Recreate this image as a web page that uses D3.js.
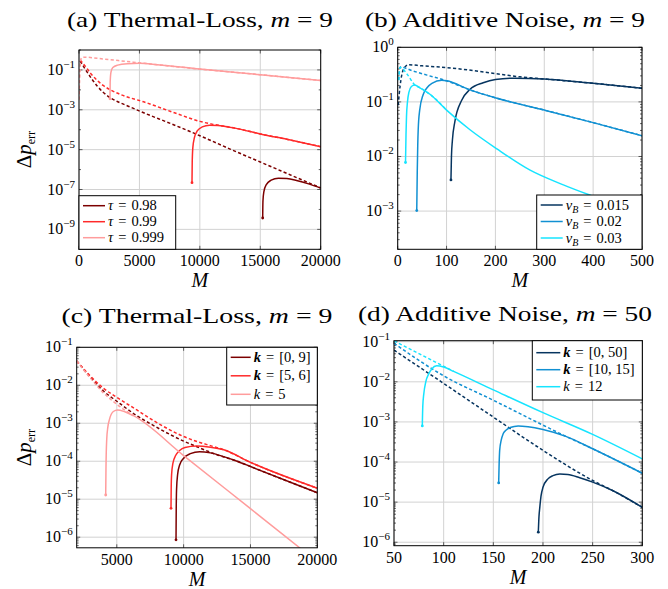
<!DOCTYPE html>
<html><head><meta charset="utf-8">
<script src="https://cdn.jsdelivr.net/npm/d3@7"></script>
<style>
body{margin:0;background:#fff}
svg{display:block}
</style>
</head><body>
<svg id="c" width="668" height="589" font-family="Liberation Serif, DejaVu Serif, Times New Roman, serif"></svg>
<script>
// ---------------- Panel (a): Thermal-Loss, m = 9 ----------------
const aXTicks = [0, 5000, 10000, 15000, 20000];
const aYTicks = [1e-1, 1e-3, 1e-5, 1e-7, 1e-9];
const aLegend = ["0.98", "0.99", "0.999"];
const aDash098 = [[100,0.282],[500,0.112],[1000,0.0398],[1500,0.0158],[2000,7.59e-3],[2600,3.98e-3],[3300,2.40e-3],[4200,1.41e-3],[5350,7.08e-4],[7500,2.14e-4],[10000,5.01e-5],[12500,1.07e-5],[15000,2.40e-6],[17500,5.37e-7],[20000,1.20e-7]];
const aSolid098 = [[15200,3.72e-9],[15220,2.51e-8],[15300,7.94e-8],[15500,1.78e-7],[15900,2.95e-7],[16500,3.72e-7],[17200,3.55e-7],[18000,2.82e-7],[19000,1.91e-7],[20000,1.17e-7]];
const aDash099 = [[100,0.316],[500,0.158],[1000,0.0631],[1500,0.0302],[2000,0.0166],[2600,0.01],[3500,5.62e-3],[5350,2.51e-3],[7900,7.08e-4],[10000,2.63e-4],[11000,1.91e-4],[12000,1.51e-4],[13000,1.17e-4],[15000,6.17e-5],[17500,3.02e-5],[20000,1.41e-5]];
const aSolid099 = [[9350,2.19e-7],[9370,2.51e-6],[9420,1.26e-5],[9550,3.98e-5],[9800,8.91e-5],[10200,1.38e-4],[10800,1.66e-4],[11500,1.62e-4],[12000,1.51e-4],[13000,1.17e-4],[15000,6.17e-5],[17500,3.02e-5],[20000,1.41e-5]];
const aDash0999 = [[0,3.16e-3],[50,0.0316],[100,0.158],[200,0.398],[400,0.437],[2000,0.355],[4000,0.263],[6500,0.182],[10000,0.110],[15000,0.0575],[20000,0.0295]];
const aSolid0999 = [[2565,3.55e-3],[2580,0.0251],[2650,0.0794],[2800,0.132],[3200,0.174],[4000,0.204],[5000,0.214],[6500,0.182],[10000,0.110],[15000,0.0575],[20000,0.0295]];

// ---------------- Panel (b): Additive Noise, m = 9 ----------------
const bXTicks = [0, 100, 200, 300, 400, 500];
const bYTicks = [1, 1e-1, 1e-2, 1e-3];
const bLegend = ["0.015", "0.02", "0.03"];
const bDash0015 = [[1,0.0871],[5,0.2],[12,0.398],[22,0.479],[50,0.457],[97,0.427],[150,0.380],[199,0.331],[250,0.288],[300,0.263],[400,0.219],[500,0.178]];
const bSolid0015 = [[109,3.72e-3],[110,0.01],[112,0.02],[117,0.0437],[131,0.107],[148,0.170],[175,0.224],[200,0.257],[240,0.272],[300,0.263],[400,0.219],[500,0.178]];
const bDash002 = [[2,0.251],[5,0.437],[30,0.372],[60,0.309],[90,0.26],[100,0.243],[148,0.166],[203,0.117],[300,0.0708],[400,0.0417],[500,0.0240]];
const bSolid002 = [[39,1.02e-3],[40,5.01e-3],[41,0.0158],[42,0.0316],[45,0.0708],[52,0.135],[60,0.182],[70,0.219],[90,0.248],[100,0.243],[148,0.166],[203,0.117],[300,0.0708],[400,0.0417],[500,0.0240]];
const bDash003 = [[2,0.251],[5,0.427],[20,0.316],[35,0.204],[45,0.182],[66,0.138],[100,0.0708]];
const bSolid003 = [[16,7.76e-3],[17,0.0251],[18,0.0537],[20,0.1],[23,0.151],[28,0.191],[35,0.204],[45,0.182],[66,0.138],[100,0.0708],[148,0.0309],[203,0.0138],[271,5.62e-3],[339,3.02e-3],[400,1.86e-3],[500,8.91e-4]];

// ---------------- Panel (c): Thermal-Loss, m = 9 ----------------
const cXTicks = [5000, 10000, 15000, 20000];
const cYTicks = [1e-1, 1e-2, 1e-3, 1e-4, 1e-5, 1e-6];
const cLegend = ["[0, 9]", "[5, 6]", "5"];
const cDash09 = [[2000,0.0437],[3000,0.0166],[4000,7.08e-3],[5000,3.80e-3],[6500,1.58e-3],[7600,9.33e-4],[9000,5.01e-4],[10000,3.39e-4],[11000,2.40e-4],[12500,1.48e-4],[14000,1.0e-4],[15000,7.24e-5],[20000,1.48e-5]];
const cSolid09 = [[9430,8.51e-7],[9445,5.01e-6],[9470,1.78e-5],[9550,4.47e-5],[9700,7.94e-5],[10000,1.20e-4],[10500,1.58e-4],[11200,1.78e-4],[12000,1.66e-4],[13000,1.32e-4],[14000,1.0e-4],[15000,7.24e-5],[20000,1.48e-5]];
const cDash56 = [[2000,0.0437],[3000,0.0178],[4000,8.32e-3],[5000,4.79e-3],[6500,2.24e-3],[7600,1.26e-3],[9000,6.61e-4],[10000,4.47e-4],[11000,3.31e-4],[12000,2.57e-4],[13000,2.0e-4],[15000,9.33e-5],[20000,1.95e-5]];
const cSolid56 = [[9055,5.75e-6],[9070,2.0e-5],[9100,4.47e-5],[9200,8.91e-5],[9400,1.41e-4],[9700,1.91e-4],[10100,2.29e-4],[10975,2.51e-4],[12000,2.34e-4],[13000,2.0e-4],[15000,9.33e-5],[20000,1.95e-5]];
const cDash5 = [[2000,0.0437],[3000,0.0158],[4000,6.31e-3],[5000,3.16e-3],[6240,1.58e-3]];
const cSolid5 = [[4170,1.29e-5],[4190,6.31e-5],[4244,3.63e-4],[4330,7.94e-4],[4443,1.23e-3],[4742,2.04e-3],[5066,2.24e-3],[5600,2.0e-3],[6240,1.58e-3],[10000,1.41e-4],[15000,5.62e-6],[19000,4.27e-7]];

// ---------------- Panel (d): Additive Noise, m = 50 ----------------
const dXTicks = [50, 100, 150, 200, 250, 300];
const dYTicks = [1e-1, 1e-2, 1e-3, 1e-4, 1e-5, 1e-6];
const dLegend = ["[0, 50]", "[10, 15]", "12"];
const dDash050 = [[50,0.0617],[100,9.12e-3],[150,1.32e-3],[200,1.95e-4],[250,3.47e-5],[270,1.95e-5],[300,7.41e-6]];
const dSolid050 = [[195.3,1.78e-6],[196,4.47e-6],[196.8,7.41e-6],[198,1.41e-5],[200,2.34e-5],[205,3.80e-5],[210,4.57e-5],[217,5.01e-5],[225,4.90e-5],[237,4.07e-5],[250,3.16e-5],[270,1.95e-5],[300,7.41e-6]];
const dDash1015 = [[50,0.0912],[100,0.0141],[150,3.47e-3],[200,8.32e-4],[223,4.37e-4],[250,2.14e-4],[300,5.25e-5]];
const dSolid1015 = [[155.4,3.02e-5],[155.8,7.94e-5],[156.4,1.95e-4],[158,3.55e-4],[160,5.13e-4],[163,6.31e-4],[167,7.24e-4],[175,7.94e-4],[185,7.59e-4],[200,6.46e-4],[223,4.37e-4],[250,2.14e-4],[300,5.25e-5]];
const dDash12 = [[50,0.105],[110,0.0182]];
const dSolid12 = [[78.5,7.94e-4],[79,2.51e-3],[80,5.01e-3],[82,0.01],[85,0.0158],[88,0.0209],[93,0.0251],[100,0.0234],[110,0.0182],[150,6.31e-3],[200,1.70e-3],[250,4.90e-4],[300,1.20e-4]];

// colours
const REDS = ["#7c0000", "#ff2a2a", "#ff9c9c"];
const BLUES = ["#06345f", "#1190d2", "#16e4ff"];

const svg = d3.select("#c");

function addRich(t, segs) {
  segs.forEach(s => {
    const ts = t.append("tspan").text(s.t);
    if (s.i) ts.attr("font-style", "italic");
    if (s.b) ts.attr("font-weight", "bold");
    if (s.fs) ts.attr("font-size", s.fs);
    if (s.dy) ts.attr("dy", s.dy);
    if (s.dx) ts.attr("dx", s.dx);
  });
}

function expOf(v) { return Math.round(Math.log10(v)); }

function panel(cfg) {
  const g = svg.append("g");
  const x = d3.scaleLinear().domain(cfg.xd).range([cfg.x0, cfg.x1]);
  const y = d3.scaleLog().domain(cfg.yd).range([cfg.y1, cfg.y0]);
  // grid
  g.selectAll(null).data(cfg.xt).join("line")
    .attr("x1", d => x(d)).attr("x2", d => x(d))
    .attr("y1", cfg.y0).attr("y2", cfg.y1)
    .attr("stroke", "#d2d2d2").attr("stroke-width", 1);
  g.selectAll(null).data(cfg.yt).join("line")
    .attr("x1", cfg.x0).attr("x2", cfg.x1)
    .attr("y1", d => y(d)).attr("y2", d => y(d))
    .attr("stroke", "#d2d2d2").attr("stroke-width", 1);
  // minor ticks on log axis
  const lo = Math.floor(Math.log10(cfg.yd[0])), hi = Math.ceil(Math.log10(cfg.yd[1]));
  const minor = [];
  for (let e = lo; e <= hi; e++) {
    if (cfg.decadeMinor) {
      const v = Math.pow(10, e);
      if (v >= cfg.yd[0] && v <= cfg.yd[1] && !cfg.yt.some(t => Math.abs(Math.log10(t) - e) < 1e-6)) minor.push(v);
    } else {
      for (let k = 2; k <= 9; k++) {
        const v = k * Math.pow(10, e);
        if (v >= cfg.yd[0] && v <= cfg.yd[1]) minor.push(v);
      }
    }
  }
  const tk = g.append("g").attr("stroke", "#000").attr("stroke-width", 0.6);
  minor.forEach(v => {
    tk.append("line").attr("x1", cfg.x0).attr("x2", cfg.x0 + 2).attr("y1", y(v)).attr("y2", y(v));
    tk.append("line").attr("x1", cfg.x1).attr("x2", cfg.x1 - 2).attr("y1", y(v)).attr("y2", y(v));
  });
  cfg.yt.forEach(v => {
    tk.append("line").attr("x1", cfg.x0).attr("x2", cfg.x0 + 3.5).attr("y1", y(v)).attr("y2", y(v));
    tk.append("line").attr("x1", cfg.x1).attr("x2", cfg.x1 - 3.5).attr("y1", y(v)).attr("y2", y(v));
  });
  cfg.xt.forEach(v => {
    tk.append("line").attr("x1", x(v)).attr("x2", x(v)).attr("y1", cfg.y1).attr("y2", cfg.y1 - 3.5);
    tk.append("line").attr("x1", x(v)).attr("x2", x(v)).attr("y1", cfg.y0).attr("y2", cfg.y0 + 3.5);
  });
  // curves
  const cid = "clip" + cfg.id;
  svg.append("clipPath").attr("id", cid).append("rect")
    .attr("x", cfg.x0).attr("y", cfg.y0).attr("width", cfg.x1 - cfg.x0).attr("height", cfg.y1 - cfg.y0);
  const cg = g.append("g").attr("clip-path", `url(#${cid})`);
  const line = d3.line().x(d => x(d[0])).y(d => y(d[1])).curve(d3.curveMonotoneX);
  cfg.series.forEach(s => {
    cg.append("path").attr("d", line(s.dash)).attr("fill", "none")
      .attr("stroke", s.color).attr("stroke-width", 1.5).attr("stroke-dasharray", "3.2,2.3");
    cg.append("path").attr("d", line(s.solid)).attr("fill", "none")
      .attr("stroke", s.color).attr("stroke-width", 1.5);
    cg.append("circle").attr("cx", x(s.solid[0][0])).attr("cy", y(s.solid[0][1])).attr("r", 1.4).attr("fill", s.color);
  });
  // frame
  g.append("rect").attr("x", cfg.x0).attr("y", cfg.y0).attr("width", cfg.x1 - cfg.x0).attr("height", cfg.y1 - cfg.y0)
    .attr("fill", "none").attr("stroke", "#000").attr("stroke-width", 1);
  // y tick labels
  cfg.yt.forEach(v => {
    const t = g.append("text").attr("x", cfg.x0 - 4).attr("y", y(v) + 5).attr("text-anchor", "end").attr("font-size", 16);
    const e = expOf(v);
    t.append("tspan").text("10");
    t.append("tspan").attr("dy", -7).attr("font-size", 11).text(e < 0 ? "\u2212" + (-e) : String(e));
  });
  // x tick labels
  cfg.xt.forEach(v => {
    g.append("text").attr("x", x(v)).attr("y", cfg.y1 + 17).attr("text-anchor", "middle").attr("font-size", 16).text(String(v));
  });
  // x axis label
  g.append("text").attr("x", (cfg.x0 + cfg.x1) / 2).attr("y", cfg.y1 + 38).attr("text-anchor", "middle")
    .attr("font-size", 20).attr("font-style", "italic").text("M");
  // y axis label
  if (cfg.ylab) {
    const yl = g.append("text").attr("transform", `translate(${cfg.ylabX},${(cfg.y0 + cfg.y1) / 2}) rotate(-90)`)
      .attr("text-anchor", "middle").attr("font-size", 21);
    addRich(yl, [{t: "\u0394"}, {t: "p", i: true}, {t: "err", fs: 12, dy: 4}]);
  }
  // title
  const tt = g.append("text").attr("x", cfg.titleX).attr("y", cfg.titleY).attr("text-anchor", "middle").attr("font-size", 21);
  addRich(tt, [{t: cfg.title + ", "}, {t: "m", i: true}, {t: " = " + cfg.titleM}]);
  tt.attr("textLength", cfg.titleW).attr("lengthAdjust", "spacingAndGlyphs");
  // legend
  const L = cfg.legend;
  g.append("rect").attr("x", L.x).attr("y", L.y).attr("width", L.w).attr("height", L.h)
    .attr("fill", "#fff").attr("stroke", "#000").attr("stroke-width", 1);
  L.rows.forEach((r, i) => {
    const cy = L.y + L.top + i * L.step;
    g.append("line").attr("x1", L.x + 4).attr("x2", L.x + 4 + L.len).attr("y1", cy).attr("y2", cy)
      .attr("stroke", cfg.series[i].color).attr("stroke-width", 1.5);
    const t = g.append("text").attr("x", L.x + 7 + L.len).attr("y", cy + 4.5).attr("font-size", 14.5);
    addRich(t, r);
  });
}

const eqSegs = v => [{t: "=", dx: 5}, {t: v, dx: 5}];
const tauRow = v => [{t: "\u03C4", i: true}].concat(eqSegs(v));
const nuRow = v => [{t: "\u03BD", i: true}, {t: "B", i: true, fs: 10, dy: 3}, {t: "=", dx: 5, dy: -3}, {t: v, dx: 5}];
const kRow = (v, vec) => [{t: "k", i: true, b: vec}].concat(eqSegs(v));

panel({
  id: "a", x0: 79, x1: 320.7, y0: 50, y1: 249.3, xd: [0, 20000], yd: [1e-10, 1],
  xt: aXTicks, yt: aYTicks, decadeMinor: true, ylab: true, ylabX: 31,
  title: "(a) Thermal-Loss", titleM: "9", titleX: 200, titleY: 27, titleW: 266,
  series: [
    {color: REDS[0], dash: aDash098, solid: aSolid098},
    {color: REDS[1], dash: aDash099, solid: aSolid099},
    {color: REDS[2], dash: aDash0999, solid: aSolid0999}],
  legend: {x: 79, y: 195.7, w: 96.7, h: 53.6, top: 10, step: 16, len: 22, rows: aLegend.map(tauRow)}
});
panel({
  id: "b", x0: 397.7, x1: 642, y0: 47.3, y1: 249.3, xd: [0, 500], yd: [Math.pow(10, -3.7), 1],
  xt: bXTicks, yt: bYTicks, ylab: false,
  title: "(b) Additive Noise", titleM: "9", titleX: 505, titleY: 27, titleW: 280,
  series: [
    {color: BLUES[0], dash: bDash0015, solid: bSolid0015},
    {color: BLUES[1], dash: bDash002, solid: bSolid002},
    {color: BLUES[2], dash: bDash003, solid: bSolid003}],
  legend: {x: 536.7, y: 195, w: 105.3, h: 54.3, top: 10, step: 16.5, len: 22, rows: bLegend.map(nuRow)}
});
panel({
  id: "c", x0: 76.7, x1: 317.3, y0: 347.3, y1: 547.8, xd: [2000, 20000], yd: [5.25e-7, 0.1],
  xt: cXTicks, yt: cYTicks, ylab: true, ylabX: 31,
  title: "(c) Thermal-Loss", titleM: "9", titleX: 197, titleY: 323, titleW: 271,
  series: [
    {color: REDS[0], dash: cDash09, solid: cSolid09},
    {color: REDS[1], dash: cDash56, solid: cSolid56},
    {color: REDS[2], dash: cDash5, solid: cSolid5}],
  legend: {x: 226.7, y: 347.3, w: 90.6, h: 57.7, top: 10, step: 18.5, len: 20, rows: [kRow(cLegend[0], true), kRow(cLegend[1], true), kRow(cLegend[2], false)]}
});
panel({
  id: "d", x0: 394, x1: 642.3, y0: 340.7, y1: 545.7, xd: [50, 300], yd: [8.2e-7, 0.106],
  xt: dXTicks, yt: dYTicks, ylab: false,
  title: "(d) Additive Noise", titleM: "50", titleX: 505, titleY: 321, titleW: 294,
  series: [
    {color: BLUES[0], dash: dDash050, solid: dSolid050},
    {color: BLUES[1], dash: dDash1015, solid: dSolid1015},
    {color: BLUES[2], dash: dDash12, solid: dSolid12}],
  legend: {x: 532.3, y: 340.7, w: 110, h: 59.3, top: 12, step: 17, len: 24, rows: [kRow(dLegend[0], true), kRow(dLegend[1], true), kRow(dLegend[2], false)]}
});
</script>
</body></html>
